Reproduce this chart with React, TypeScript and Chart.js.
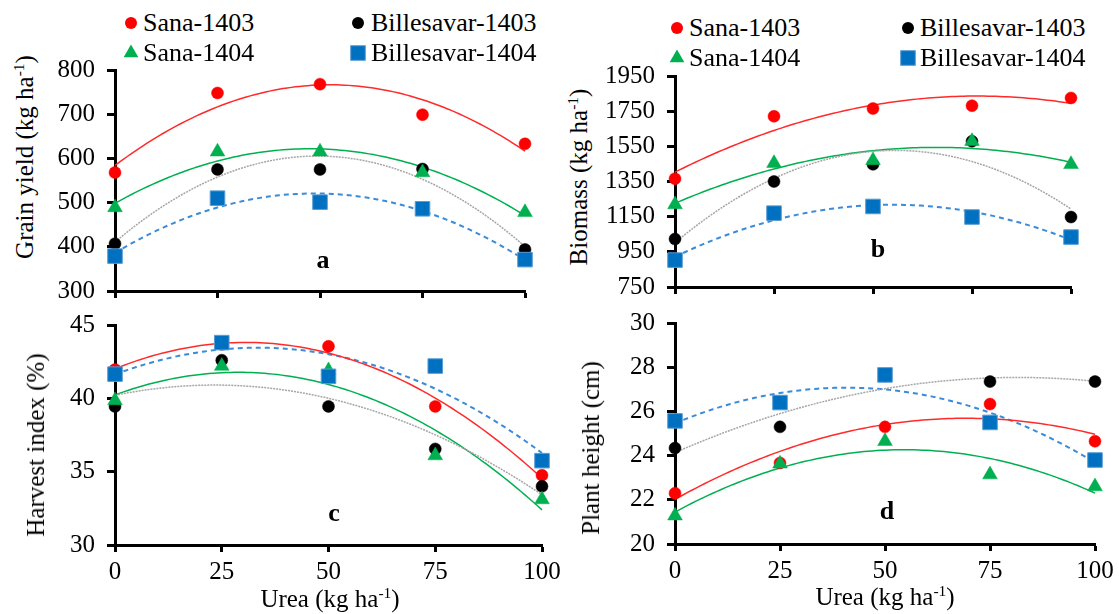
import React, { useEffect, useRef } from "react";
import { Chart, registerables } from "chart.js";
Chart.register(...registerables);

// ---------- data ----------
const doses = [0, 25, 50, 75, 100];
const seriesNames = ["Sana-1403", "Billesavar-1403", "Sana-1404", "Billesavar-1404"];

const grainSana1403 = [568, 748, 768, 699, 633];
const grainBille1403 = [407, 575, 575, 576, 394];
const grainSana1404 = [489, 615, 615, 568, 478];
const grainBille1404 = [379, 510, 501, 486, 371];

const bioSana1403 = [1366, 1721, 1765, 1781, 1825];
const bioBille1403 = [1023, 1350, 1448, 1579, 1148];
const bioSana1404 = [1219, 1454, 1470, 1579, 1448];
const bioBille1404 = [903, 1170, 1208, 1148, 1034];

const hiSana1403 = [41.96, 43.7, 43.55, 39.45, 34.76];
const hiBille1403 = [39.45, 42.6, 39.45, 36.55, 34.0];
const hiSana1404 = [39.85, 42.2, 41.9, 36.1, 33.1];
const hiBille1404 = [41.65, 43.8, 41.5, 42.2, 35.75];

const phSana1403 = [22.3, 23.67, 25.3, 26.33, 24.65];
const phBille1403 = [24.34, 25.3, 27.6, 27.35, 27.35];
const phSana1404 = [21.28, 23.63, 24.65, 23.14, 22.6];
const phBille1404 = [25.57, 26.4, 27.65, 25.5, 23.8];

// ---------- styles ----------
const FONT = '"Liberation Serif", "Times New Roman", serif';
const RED = "#FF0000";
const BLACK = "#000000";
const GREEN = "#00B050";
const BLUE = "#0070C0";

const markerStyles = [
  { style: "circle", color: RED, border: RED, radius: 6, order: 3 },
  { style: "circle", color: BLACK, border: BLACK, radius: 6, order: 2 },
  { style: "triangle", color: GREEN, border: GREEN, radius: 8.5, order: 1 },
  { style: "rect", color: BLUE, border: "#5B9BD5", radius: 10.3, order: 0 },
];
const trendStyles = [
  { color: "#FF2A2A", width: 1.5, dash: [] as number[] },
  { color: "#A6A6A6", width: 1.5, dash: [2, 1] },
  { color: "#00B050", width: 1.5, dash: [] as number[] },
  { color: "#3A8BD8", width: 2, dash: [5, 4] },
];

// quadratic least-squares trendline (like a spreadsheet polynomial trendline)
function quadFit(xs: number[], ys: number[]) {
  const s = xs.map((x) => x / 25);
  const S = [0, 0, 0, 0, 0];
  const T = [0, 0, 0];
  s.forEach((x, i) => {
    for (let k = 0; k < 5; k++) S[k] += Math.pow(x, k);
    for (let k = 0; k < 3; k++) T[k] += Math.pow(x, k) * ys[i];
  });
  const M = [
    [S[0], S[1], S[2], T[0]],
    [S[1], S[2], S[3], T[1]],
    [S[2], S[3], S[4], T[2]],
  ];
  for (let i = 0; i < 3; i++) {
    for (let j = i + 1; j < 3; j++) {
      const f = M[j][i] / M[i][i];
      for (let k = i; k < 4; k++) M[j][k] -= f * M[i][k];
    }
  }
  const c = [0, 0, 0];
  for (let i = 2; i >= 0; i--) {
    let v = M[i][3];
    for (let k = i + 1; k < 3; k++) v -= M[i][k] * c[k];
    c[i] = v / M[i][i];
  }
  return (x: number) => {
    const t = x / 25;
    return c[0] + c[1] * t + c[2] * t * t;
  };
}

type PanelSpec = {
  key: string;
  left: number;
  top: number;
  width: number;
  height: number;
  yWidth: number;
  xHeight: number;
  padTop: number;
  padRight: number;
  padBottom: number;
  yMin: number;
  yMax: number;
  yStep: number;
  showX: boolean;
  series: number[][];
};

const panels: PanelSpec[] = [
  {
    key: "a", left: 40, top: 43, width: 515, height: 275, yWidth: 75, xHeight: 12,
    padTop: 20, padRight: 30, padBottom: 10, yMin: 300, yMax: 800, yStep: 100, showX: false,
    series: [grainSana1403, grainBille1403, grainSana1404, grainBille1404],
  },
  {
    key: "b", left: 600, top: 49, width: 501, height: 265, yWidth: 75, xHeight: 12,
    padTop: 20, padRight: 30, padBottom: 10, yMin: 750, yMax: 1950, yStep: 200, showX: false,
    series: [bioSana1403, bioBille1403, bioSana1404, bioBille1404],
  },
  {
    key: "c", left: 40, top: 298, width: 532, height: 292, yWidth: 75, xHeight: 40,
    padTop: 20, padRight: 30, padBottom: 5, yMin: 30, yMax: 45, yStep: 5, showX: true,
    series: [hiSana1403, hiBille1403, hiSana1404, hiBille1404],
  },
  {
    key: "d", left: 600, top: 296, width: 519, height: 293, yWidth: 75, xHeight: 40,
    padTop: 20, padRight: 24, padBottom: 5, yMin: 20, yMax: 30, yStep: 2, showX: true,
    series: [phSana1403, phBille1403, phSana1404, phBille1404],
  },
];

function buildConfig(p: PanelSpec): any {
  const datasets: any[] = [];
  p.series.forEach((vals, i) => {
    const m = markerStyles[i];
    datasets.push({
      label: seriesNames[i],
      data: doses.map((x, j) => ({ x, y: vals[j] })),
      showLine: false,
      pointStyle: m.style,
      pointRadius: m.radius,
      pointBackgroundColor: m.color,
      pointBorderColor: m.border,
      pointBorderWidth: i === 3 ? 1 : 0.5,
      order: m.order,
      clip: false,
    });
  });
  p.series.forEach((vals, i) => {
    const f = quadFit(doses, vals);
    const t = trendStyles[i];
    const pts: { x: number; y: number }[] = [];
    for (let x = 0; x <= 100; x += 1) pts.push({ x, y: f(x) });
    datasets.push({
      label: seriesNames[i] + " trend",
      data: pts,
      showLine: true,
      pointRadius: 0,
      borderColor: t.color,
      borderWidth: t.width,
      borderDash: t.dash,
      tension: 0,
      order: 10 + i,
      clip: false,
    });
  });
  const tickFont = { family: FONT, size: 25 };
  const plain = (v: any) => String(v);
  return {
    type: "scatter",
    data: { datasets },
    options: {
      animation: false,
      responsive: false,
      events: [],
      layout: { padding: { left: 0, top: p.padTop, right: p.padRight, bottom: p.padBottom } },
      plugins: { legend: { display: false }, tooltip: { enabled: false } },
      scales: {
        x: {
          type: "linear",
          min: 0,
          max: 100,
          afterFit: (s: any) => {
            s.height = p.xHeight;
          },
          ticks: { stepSize: 25, display: p.showX, font: tickFont, color: "#000", padding: 5, maxRotation: 0, callback: plain },
          grid: { drawOnChartArea: false, drawTicks: true, tickLength: 7, tickWidth: 3, color: "#000", tickColor: "#000" },
          border: { display: true, color: "#000", width: 3 },
        },
        y: {
          type: "linear",
          min: p.yMin,
          max: p.yMax,
          afterFit: (s: any) => {
            s.width = p.yWidth;
          },
          ticks: { stepSize: p.yStep, font: tickFont, color: "#000", padding: 12, callback: plain },
          grid: { drawOnChartArea: false, drawTicks: true, tickLength: 8, tickWidth: 3, color: "#000", tickColor: "#000" },
          border: { display: true, color: "#000", width: 3 },
        },
      },
    },
  };
}

function Panel({ p }: { p: PanelSpec }) {
  const ref = useRef<HTMLCanvasElement | null>(null);
  useEffect(() => {
    if (!ref.current) return;
    const chart = new Chart(ref.current, buildConfig(p));
    return () => chart.destroy();
  }, [p]);
  return (
    <canvas
      ref={ref}
      width={p.width}
      height={p.height}
      style={{ position: "absolute", left: p.left, top: p.top, width: p.width, height: p.height }}
    />
  );
}

function Marker({ kind, cx, cy }: { kind: number; cx: number; cy: number }) {
  const size = 22;
  const h = size / 2;
  let shape: any = null;
  if (kind === 0) shape = <circle cx={h} cy={h} r={6} fill={RED} />;
  if (kind === 1) shape = <circle cx={h} cy={h} r={6} fill={BLACK} />;
  if (kind === 2) {
    const r = 8.5;
    const pts = [0, 120, 240]
      .map((a) => {
        const rad = (a * Math.PI) / 180;
        return `${h + Math.sin(rad) * r},${h - Math.cos(rad) * r}`;
      })
      .join(" ");
    shape = <polygon points={pts} fill={GREEN} />;
  }
  if (kind === 3) {
    const s = 10.3 * Math.SQRT1_2;
    shape = <rect x={h - s} y={h - s} width={2 * s} height={2 * s} fill={BLUE} stroke="#5B9BD5" strokeWidth={1} />;
  }
  return (
    <svg width={size} height={size} style={{ position: "absolute", left: cx - h, top: cy - h }}>
      {shape}
    </svg>
  );
}

function LegendText({ x, cy, text }: { x: number; cy: number; text: string }) {
  return (
    <div
      style={{
        position: "absolute",
        left: x,
        top: cy - 14,
        fontFamily: FONT,
        fontSize: 26,
        lineHeight: "28px",
        whiteSpace: "nowrap",
        color: "#000",
      }}
    >
      {text}
    </div>
  );
}

const legendLayouts = [
  { mx: [131, 358], tx: [143, 371], rows: [23, 53] },
  { mx: [677, 908], tx: [689, 920], rows: [28, 58] },
];

function AxisTitle({ cx, cy, rotate, children }: { cx: number; cy: number; rotate: boolean; children: any }) {
  return (
    <div
      style={{
        position: "absolute",
        left: cx,
        top: cy,
        transform: `translate(-50%, -50%)${rotate ? " rotate(-90deg)" : ""}`,
        fontFamily: FONT,
        fontSize: 25,
        lineHeight: "28px",
        whiteSpace: "nowrap",
        color: "#000",
      }}
    >
      {children}
    </div>
  );
}

const Sup = () => <sup style={{ fontSize: "0.62em", lineHeight: 0, verticalAlign: "0.55em" }}>-1</sup>;

function Letter({ cx, baseline, text }: { cx: number; baseline: number; text: string }) {
  return (
    <div
      style={{
        position: "absolute",
        left: cx,
        top: baseline - 22,
        transform: "translateX(-50%)",
        fontFamily: FONT,
        fontWeight: "bold",
        fontSize: 26,
        lineHeight: "26px",
        color: "#000",
      }}
    >
      {text}
    </div>
  );
}

export default function App() {
  return (
    <div style={{ position: "absolute", left: 0, top: 0, width: 1119, height: 614, background: "#fff", overflow: "hidden" }}>
      {panels.map((p) => (
        <Panel key={p.key} p={p} />
      ))}
      {legendLayouts.map((L, li) => (
        <React.Fragment key={li}>
          <Marker kind={0} cx={L.mx[0]} cy={L.rows[0]} />
          <LegendText x={L.tx[0]} cy={L.rows[0]} text={seriesNames[0]} />
          <Marker kind={1} cx={L.mx[1]} cy={L.rows[0]} />
          <LegendText x={L.tx[1]} cy={L.rows[0]} text={seriesNames[1]} />
          <Marker kind={2} cx={L.mx[0]} cy={L.rows[1]} />
          <LegendText x={L.tx[0]} cy={L.rows[1]} text={seriesNames[2]} />
          <Marker kind={3} cx={L.mx[1]} cy={L.rows[1]} />
          <LegendText x={L.tx[1]} cy={L.rows[1]} text={seriesNames[3]} />
        </React.Fragment>
      ))}
      <AxisTitle cx={25} cy={157} rotate>
        Grain yield (kg ha<Sup />)
      </AxisTitle>
      <AxisTitle cx={579} cy={177} rotate>
        Biomass (kg ha<Sup />)
      </AxisTitle>
      <AxisTitle cx={36} cy={445} rotate>
        Harvest index (%)
      </AxisTitle>
      <AxisTitle cx={591} cy={448} rotate>
        Plant height (cm)
      </AxisTitle>
      <AxisTitle cx={330} cy={599} rotate={false}>
        Urea (kg ha<Sup />)
      </AxisTitle>
      <AxisTitle cx={885} cy={597} rotate={false}>
        Urea (kg ha<Sup />)
      </AxisTitle>
      <Letter cx={323} baseline={269} text="a" />
      <Letter cx={878} baseline={258} text="b" />
      <Letter cx={334} baseline={522} text="c" />
      <Letter cx={887} baseline={520} text="d" />
    </div>
  );
}
